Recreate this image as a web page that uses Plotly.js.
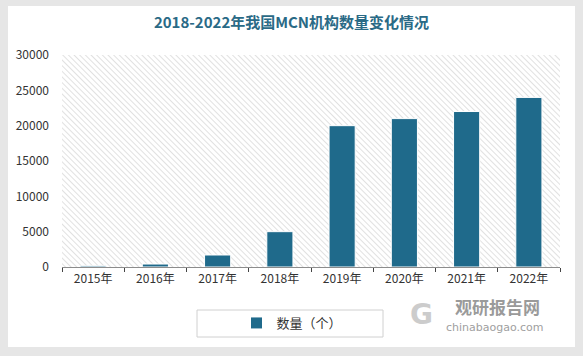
<!DOCTYPE html>
<html><head><meta charset="utf-8">
<script src="https://cdn.plot.ly/plotly-3.0.1.min.js"></script>
<style>html,body{margin:0;padding:0;background:#fff}#c{width:583px;height:356px}</style>
</head><body><div id="c"></div>
<script>
const years = ['2015年','2016年','2017年','2018年','2019年','2020年','2021年','2022年'];
const counts = [160, 420, 1700, 5000, 20000, 21000, 22000, 24000];
const yTicks = [0, 5000, 10000, 15000, 20000, 25000, 30000];
const seriesName = '数量（个）';
const titleText = '2018-2022年我国MCN机构数量变化情况';

const stripeSvg = "<svg xmlns='http://www.w3.org/2000/svg' width='498' height='212'><defs><pattern id='p' width='4' height='4' patternUnits='userSpaceOnUse' patternTransform='rotate(-45)'><rect width='4' height='4' fill='#ffffff'/><line x1='0' y1='0' x2='0' y2='4' stroke='#cdcdcd' stroke-width='1.2'/></pattern></defs><rect width='498' height='212' fill='url(#p)'/></svg>";
const stripeUri = 'data:image/svg+xml;base64,' + btoa(stripeSvg);

const font = "'Microsoft YaHei', 'Noto Sans CJK SC', 'DejaVu Sans', sans-serif";
const px = v => (v - 62) / 498;
const py = v => (267 - v) / 212;
const grey = '#e6e6e6';
const band = (x0, x1, y0, y1) => ({type: 'rect', xref: 'paper', yref: 'paper', layer: 'above',
  x0: px(x0), x1: px(x1), y0: py(y1), y1: py(y0), fillcolor: grey, line: {width: 0}});

const data = [{
  type: 'bar', x: years, y: counts, name: seriesName,
  marker: {color: '#1f6a8b', line: {color: '#ffffff', width: 1}},
  width: 0.42, showlegend: true
}];

const layout = {
  width: 583, height: 356,
  margin: {l: 62, r: 23, t: 55, b: 89},
  paper_bgcolor: '#ffffff',
  plot_bgcolor: 'rgba(0,0,0,0)',
  font: {family: font, size: 12, color: '#333333'},
  title: {text: '<b>' + titleText + '</b>', x: 0.5, xanchor: 'center', y: 0.935, yanchor: 'middle',
          font: {family: font, size: 15, color: '#2a6a86'}},
  xaxis: {type: 'category', showline: true, linecolor: '#8c8c8c', linewidth: 1.3,
          ticks: 'outside', tickson: 'boundaries', ticklen: 4, tickcolor: '#444',
          showgrid: false, tickfont: {size: 12, color: '#333'}, fixedrange: true},
  yaxis: {range: [0, 30000], tickvals: yTicks, tickformat: 'd', showgrid: false, zeroline: false,
          showline: false, ticks: '', ticklabelstandoff: 12, tickfont: {size: 12, color: '#333'}, fixedrange: true},
  showlegend: true,
  legend: {orientation: 'h', x: px(292), xanchor: 'center', y: py(323), yanchor: 'middle',
           itemwidth: 30, font: {size: 13, color: '#333'}, bgcolor: 'rgba(0,0,0,0)'},
  shapes: [
    band(0, 8, 0, 356), band(575, 583, 0, 356), band(0, 583, 0, 6), band(0, 583, 347, 356),
    {type: 'rect', xref: 'paper', yref: 'paper', layer: 'below',
     x0: px(197), x1: px(383), y0: py(337), y1: py(310),
     fillcolor: 'rgba(0,0,0,0)', line: {color: '#d0d0d0', width: 1}}
  ],
  images: [{source: stripeUri, xref: 'paper', yref: 'paper', x: 0, y: 1, sizex: 1, sizey: 1,
            sizing: 'stretch', xanchor: 'left', yanchor: 'top', layer: 'below'}],
  annotations: [
    {text: '<b>观研报告网</b>', xref: 'paper', yref: 'paper', x: px(497), y: py(306),
     showarrow: false, font: {family: font, size: 17, color: '#9a9a9a'}, xanchor: 'center', yanchor: 'middle'},
    {text: 'chinabaogao.com', xref: 'paper', yref: 'paper', x: px(495), y: py(327),
     showarrow: false, font: {family: "'DejaVu Sans', sans-serif", size: 11, color: '#a0a0a0'}, xanchor: 'center', yanchor: 'middle'},
    {text: '<b>G</b>', xref: 'paper', yref: 'paper', x: px(421), y: py(314),
     showarrow: false, font: {family: "'DejaVu Sans', sans-serif", size: 28, color: '#cccccc'}, xanchor: 'center', yanchor: 'middle'}
  ]
};

Plotly.newPlot('c', data, layout, {displayModeBar: false, staticPlot: true});
</script></body></html>
